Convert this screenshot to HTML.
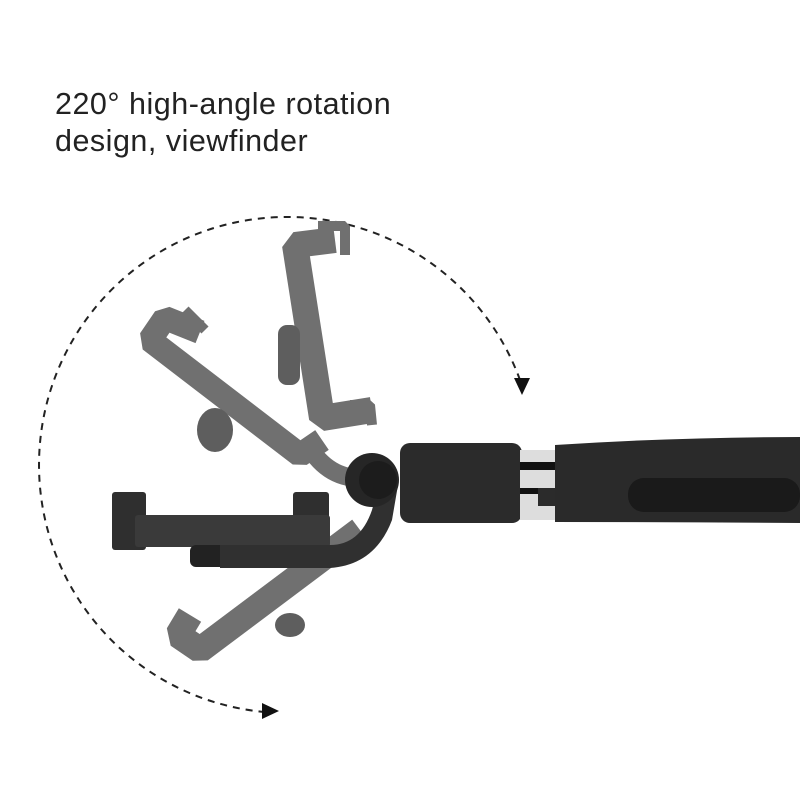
<!DOCTYPE html>
<html><head><style>
body{margin:0;width:800px;height:800px;background:#fff;overflow:hidden;position:relative}
.t{position:absolute;left:55px;top:86px;font-family:"Liberation Sans",sans-serif;font-size:30.5px;line-height:37px;color:#222;letter-spacing:0.5px}
</style></head><body>
<div class="t">220° high-angle rotation<br>design, viewfinder</div>
<svg width="800" height="800" style="position:absolute;left:0;top:0">
<path d="M520,380 A248,248 0 1 0 265,712" fill="none" stroke="#222" stroke-width="2" stroke-dasharray="7,6"/>
<polygon points="514,378 530,378 522,395" fill="#111"/>
<polygon points="262,703 262,719 279,711" fill="#111"/>
<g fill="none" stroke="#707070" stroke-linejoin="bevel">
<polyline points="335,240 295,245 322,418 372,410" stroke-width="26"/>
<polyline points="318,226 345,226 345,255" stroke-width="10"/>
<polyline points="350,405 370,405 372,425" stroke-width="10"/>
<polyline points="200,332 165,318 150,340 300,455 322,440" stroke-width="24"/>
<polyline points="185,310 205,330" stroke-width="10"/>
<polyline points="190,615 178,635 200,650 360,530" stroke-width="26"/>
<path d="M305,440 Q325,478 360,478" stroke-width="18"/>
</g>
<g fill="#5e5e5e">
<rect x="278" y="325" width="22" height="60" rx="9"/>
<ellipse cx="215" cy="430" rx="18" ry="22"/>
<ellipse cx="290" cy="625" rx="15" ry="12"/>
</g>
<g fill="#2f2f2f">
<rect x="112" y="492" width="34" height="58" rx="3"/>
<rect x="293" y="492" width="36" height="35" rx="3"/>
<rect x="135" y="515" width="195" height="32" rx="3" fill="#3a3a3a"/>
<rect x="190" y="545" width="45" height="22" rx="6" fill="#222"/>
<path d="M220,545 L330,545 Q360,545 372,510 L380,480 L398,485 L392,520 Q375,565 330,568 L220,568Z" fill="#303030"/>
</g>
<rect x="400" y="443" width="122" height="80" rx="10" fill="#2b2b2b"/>
<rect x="520" y="450" width="36" height="70" fill="#ddd"/>
<rect x="520" y="462" width="36" height="8" fill="#111"/>
<rect x="520" y="488" width="36" height="6" fill="#111"/>
<rect x="538" y="488" width="18" height="18" fill="#2b2b2b"/>
<path d="M555,445 Q680,437 800,437 L800,523 Q680,522 555,522Z" fill="#2a2a2a"/>
<rect x="628" y="478" width="172" height="34" rx="16" fill="#1a1a1a"/>
<circle cx="372" cy="480" r="27" fill="#262626"/>
<circle cx="378" cy="480" r="19" fill="#1c1c1c"/>
</svg>
</body></html>
